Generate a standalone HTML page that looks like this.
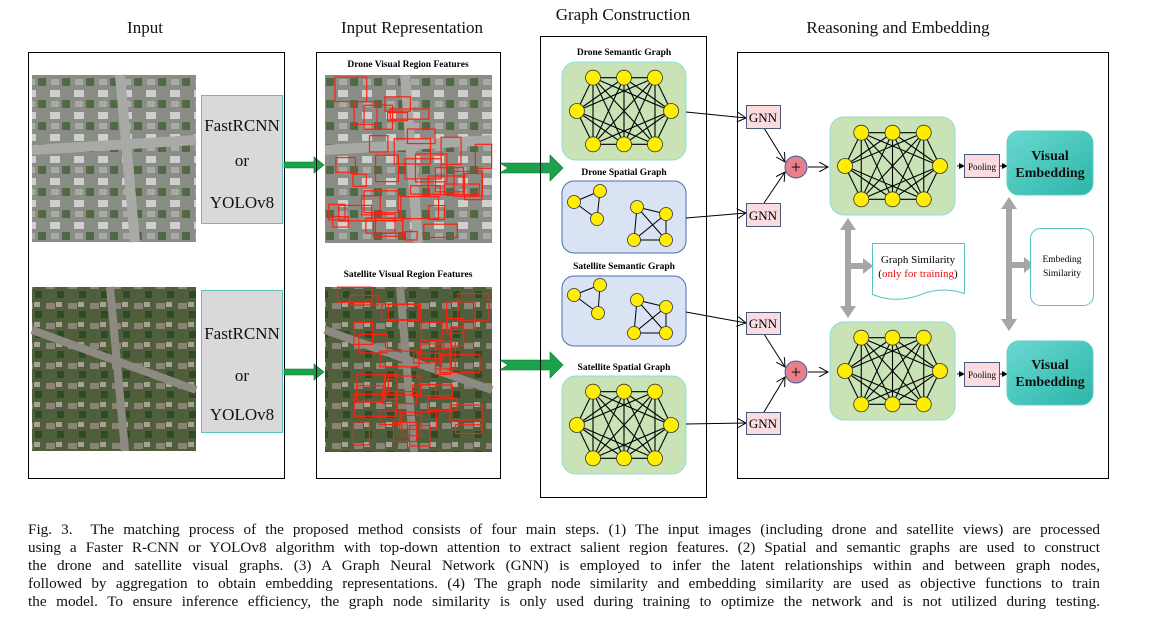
<!DOCTYPE html>
<html><head><meta charset="utf-8"><style>
body{margin:0;background:#fff;width:1165px;height:631px;overflow:hidden;font-family:"Liberation Serif",serif}
svg{position:absolute;left:0;top:0}
.cap{position:absolute;left:28px;top:521px;width:1072px;font-size:15.2px;line-height:18px;color:#111}
.cap div{text-align:justify;text-align-last:justify;white-space:nowrap}
</style></head><body>
<svg id="s" width="1165" height="520" xmlns="http://www.w3.org/2000/svg" font-family="Liberation Serif, serif">
<defs>
<marker id="ar" markerWidth="10" markerHeight="10" refX="9" refY="5" orient="auto" markerUnits="userSpaceOnUse"><path d="M0,0 L9,5 L0,10" fill="none" stroke="#000" stroke-width="1"/></marker>
<marker id="sa" markerWidth="6" markerHeight="6" refX="5" refY="3" orient="auto" markerUnits="userSpaceOnUse"><path d="M0,0 L6,3 L0,6z" fill="#000"/></marker>
<linearGradient id="teal" x1="0" y1="0" x2="1" y2="1"><stop offset="0" stop-color="#6ad8d0"/><stop offset="1" stop-color="#2bb6a8"/></linearGradient>
<pattern id="drone" width="24" height="22" patternUnits="userSpaceOnUse"><rect width="24" height="22" fill="#8a8c86"/><rect x="2" y="2" width="10" height="7" fill="#cfd0cc"/><rect x="14" y="12" width="8" height="8" fill="#4f6a45"/><rect x="3" y="13" width="8" height="6" fill="#a9aaa5"/></pattern>
<pattern id="sat" width="22" height="20" patternUnits="userSpaceOnUse"><rect width="22" height="20" fill="#4f5f3c"/><rect x="2" y="3" width="9" height="6" fill="#8a8478"/><rect x="13" y="11" width="7" height="7" fill="#2e4a26"/><rect x="12" y="2" width="6" height="5" fill="#a8a294"/></pattern>
</defs>
<g font-size="17" text-anchor="middle" fill="#111">
<text x="145" y="33">Input</text><text x="412" y="33">Input Representation</text>
<text x="623" y="20">Graph Construction</text><text x="898" y="33">Reasoning and Embedding</text></g>
<rect x="28.5" y="52.5" width="256" height="426" fill="none" stroke="#000"/>
<rect x="32" y="75" width="164" height="167" fill="url(#drone)"/>
<path d="M32,150 L196,140 M120,75 L135,242" stroke="#a9aaa6" stroke-width="10"/>
<rect x="32" y="287" width="164" height="164" fill="url(#sat)"/>
<path d="M32,330 L196,390 M110,287 L125,451" stroke="#8d8a82" stroke-width="8"/>
<rect x="201.5" y="95.5" width="81" height="128" fill="#d9d9d9" stroke="#5cc4c0"/>
<rect x="201.5" y="290.5" width="81" height="142" fill="#d9d9d9" stroke="#5cc4c0"/>
<g font-size="17" text-anchor="middle" fill="#111"><text x="242" y="131">FastRCNN</text><text x="242" y="166">or</text><text x="242" y="208">YOLOv8</text>
<text x="242" y="339">FastRCNN</text><text x="242" y="381">or</text><text x="242" y="420">YOLOv8</text></g>
<path d="M284,162 h30 v-5 l10,8 l-10,8 v-5 h-30z M284,369 h30 v-5 l10,8 l-10,8 v-5 h-30z" fill="#1aa34a" stroke="#0f6b30" stroke-width=".6"/>
<rect x="316.5" y="52.5" width="184" height="426" fill="none" stroke="#000"/>
<g font-size="9.5" font-weight="bold" text-anchor="middle"><text x="408" y="67">Drone Visual Region Features</text><text x="408" y="277">Satellite Visual Region Features</text></g>
<rect x="325" y="75" width="167" height="168" fill="url(#drone)"/>
<path d="M325,150 L492,140 M405,75 L418,243" stroke="#a9aaa6" stroke-width="10"/>
<rect x="325" y="287" width="167" height="165" fill="url(#sat)"/>
<path d="M325,330 L492,390 M400,287 L414,452" stroke="#8d8a82" stroke-width="8"/>
<g id="rb" fill="none" stroke="#ff2010" stroke-width="1.2"></g>
<path d="M500,163 h50 v-8 l13,13 l-13,13 v-8 h-50 l8,-5z M500,360 h50 v-8 l13,13 l-13,13 v-8 h-50 l8,-5z" fill="#1aa34a" stroke="#0f6b30" stroke-width=".6"/>
<rect x="540.5" y="36.5" width="166" height="461" fill="none" stroke="#000"/>
<g font-size="9.5" font-weight="bold" text-anchor="middle"><text x="624" y="55">Drone Semantic Graph</text><text x="624" y="175">Drone Spatial Graph</text><text x="624" y="269">Satellite Semantic Graph</text><text x="624" y="370">Satellite Spatial Graph</text></g>
<rect x="562" y="62" width="124" height="98" rx="14" fill="#c9e3b6" stroke="#8fdcd2"/>
<rect x="562" y="181" width="124" height="72" rx="12" fill="#dae3f3" stroke="#4a6fb5"/>
<rect x="562" y="276" width="124" height="70" rx="12" fill="#dae3f3" stroke="#4a6fb5"/>
<rect x="562" y="376" width="124" height="98" rx="14" fill="#c9e3b6" stroke="#8fdcd2"/>
<rect x="737.5" y="52.5" width="371" height="426" fill="none" stroke="#000"/>
<g stroke="#000" fill="none" stroke-width="1">
<path d="M686,112 L746,118" marker-end="url(#ar)"/><path d="M686,218 L746,213" marker-end="url(#ar)"/>
<path d="M686,312 L746,323" marker-end="url(#ar)"/><path d="M686,424 L746,423" marker-end="url(#ar)"/>
<path d="M764,128 L785,162" marker-end="url(#ar)"/><path d="M764,203 L785,172" marker-end="url(#ar)"/>
<path d="M764,334 L785,367" marker-end="url(#ar)"/><path d="M764,412 L785,377" marker-end="url(#ar)"/>
<path d="M808,167 L828,167" marker-end="url(#ar)"/><path d="M808,372 L828,372" marker-end="url(#ar)"/>
<path d="M957,166 L964,166" marker-end="url(#sa)"/><path d="M1000,166 L1007,166" marker-end="url(#sa)"/>
<path d="M957,374 L964,374" marker-end="url(#sa)"/><path d="M1000,374 L1007,374" marker-end="url(#sa)"/>
</g>
<g fill="#fadbe0" stroke="#4a5a78"><rect x="746.5" y="105.5" width="34" height="23"/><rect x="746.5" y="203.5" width="34" height="23"/><rect x="746.5" y="312.5" width="34" height="22"/><rect x="746.5" y="412.5" width="34" height="22"/>
<rect x="964.5" y="154.5" width="35" height="23"/><rect x="964.5" y="362.5" width="35" height="24"/></g>
<g font-size="13" text-anchor="middle"><text x="763" y="122">GNN</text><text x="763" y="220">GNN</text><text x="763" y="328">GNN</text><text x="763" y="428">GNN</text></g>
<g font-size="9" text-anchor="middle"><text x="982" y="170">Pooling</text><text x="982" y="378">Pooling</text></g>
<g fill="#e8808a" stroke="#3a5fb0"><circle cx="796" cy="167" r="11"/><circle cx="796" cy="372" r="11"/></g>
<g font-size="18" text-anchor="middle"><text x="796" y="173">+</text><text x="796" y="378">+</text></g>
<rect x="830" y="117" width="125" height="98" rx="14" fill="#c9e3b6" stroke="#8fdcd2"/>
<rect x="830" y="322" width="125" height="98" rx="14" fill="#c9e3b6" stroke="#8fdcd2"/>
<g id="gr"></g>
<rect x="1007" y="131" width="86" height="64" rx="12" fill="url(#teal)" stroke="#5fcfc6"/>
<rect x="1007" y="341" width="86" height="64" rx="12" fill="url(#teal)" stroke="#5fcfc6"/>
<g font-size="14" font-weight="bold" text-anchor="middle" fill="#111"><text x="1050" y="160">Visual</text><text x="1050" y="177">Embedding</text><text x="1050" y="369">Visual</text><text x="1050" y="386">Embedding</text></g>
<g fill="#a6a6a6"><path d="M848,218 l-8,12 h5 v76 h-5 l8,12 l8,-12 h-5 v-37 h12 v5 l10,-8 l-10,-8 v5 h-12 v-33 h5z"/>
<path d="M1009,197 l-8,12 h5 v110 h-5 l8,12 l8,-12 h-5 v-51 h12 v5 l10,-8 l-10,-8 v5 h-12 v-53 h5z"/></g>
<path d="M872.5,243.5 h92 v50 q-24,-8 -46,2 q-24,8 -46,-1z" fill="#fff" stroke="#5cc4c0"/>
<text x="918" y="263" font-size="11" text-anchor="middle">Graph Similarity</text>
<text x="918" y="277" font-size="11" text-anchor="middle">(<tspan fill="#e81010">only for training</tspan>)</text>
<rect x="1030.5" y="228.5" width="63" height="77" rx="10" fill="#fff" stroke="#5cc4c0"/>
<g font-size="9.5" text-anchor="middle"><text x="1062" y="262">Embeding</text><text x="1062" y="276">Similarity</text></g>
</svg>
<div class="cap">
<div>Fig. 3.&nbsp; The matching process of the proposed method consists of four main steps. (1) The input images (including drone and satellite views) are processed</div>
<div>using a Faster R-CNN or YOLOv8 algorithm with top-down attention to extract salient region features. (2) Spatial and semantic graphs are used to construct</div>
<div>the drone and satellite visual graphs. (3) A Graph Neural Network (GNN) is employed to infer the latent relationships within and between graph nodes,</div>
<div>followed by aggregation to obtain embedding representations. (4) The graph node similarity and embedding similarity are used as objective functions to train</div>
<div>the model. To ensure inference efficiency, the graph node similarity is only used during training to optimize the network and is not utilized during testing.</div>
</div>
<script>
var NS="http://www.w3.org/2000/svg",gr=document.getElementById("gr"),rb=document.getElementById("rb");
function el(p,t,a){var e=document.createElementNS(NS,t);for(var k in a)e.setAttribute(k,a[k]);p.appendChild(e);return e}
function graph(ox,oy,w,h){var N=[[.25,.16],[.5,.16],[.75,.16],[.12,.5],[.88,.5],[.25,.84],[.5,.84],[.75,.84]].map(function(p){return[ox+p[0]*w,oy+p[1]*h]});
var E=[[0,1],[1,2],[5,6],[6,7],[0,3],[3,5],[2,4],[4,7]];for(var i=0;i<3;i++)for(var j=5;j<8;j++)E.push([i,j]);[0,1,2,5,6,7].forEach(function(k){if(k!=0&&k!=5)E.push([3,k]);if(k!=2&&k!=7)E.push([4,k])});
E.forEach(function(e){el(gr,"line",{x1:N[e[0]][0],y1:N[e[0]][1],x2:N[e[1]][0],y2:N[e[1]][1],stroke:"#000","stroke-width":1.1})});
N.forEach(function(n){el(gr,"circle",{cx:n[0],cy:n[1],r:7.5,fill:"#ffee00",stroke:"#333","stroke-width":.8})})}
function sp(nodes,edges){edges.forEach(function(e){el(gr,"line",{x1:nodes[e[0]][0],y1:nodes[e[0]][1],x2:nodes[e[1]][0],y2:nodes[e[1]][1],stroke:"#000","stroke-width":1})});nodes.forEach(function(n){el(gr,"circle",{cx:n[0],cy:n[1],r:6.5,fill:"#ffee00",stroke:"#333","stroke-width":.8})})}
graph(562,62,124,98);graph(562,376,124,98);graph(830,117,125,98);graph(830,322,125,98);
sp([[574,202],[600,191],[597,219],[637,207],[666,214],[634,240],[666,240]],[[0,1],[0,2],[1,2],[3,4],[3,5],[3,6],[4,5],[4,6],[5,6]]);
sp([[574,295],[600,285],[598,313],[637,300],[666,307],[634,333],[666,333]],[[0,1],[0,2],[1,2],[3,4],[3,5],[3,6],[4,5],[4,6],[5,6]]);
var s=1;function r(){s=(s*9301+49297)%233280;return s/233280}
[[325,75],[325,287]].forEach(function(o){for(var i=0;i<34;i++){var w=12+r()*30,h=8+r()*20;el(rb,"rect",{x:o[0]+r()*(167-w),y:o[1]+r()*(165-h),width:w,height:h})}});
</script>
</body></html>
